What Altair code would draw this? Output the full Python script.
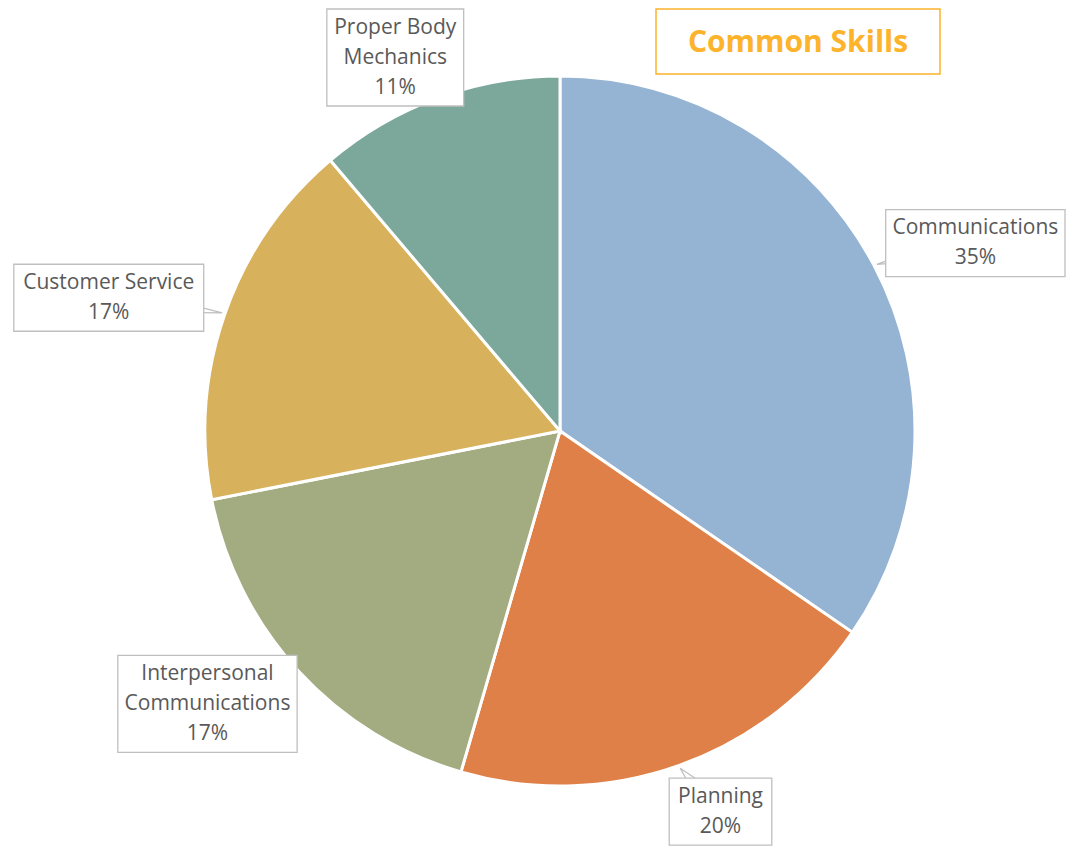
import altair as alt
import pandas as pd
import numpy as np

# ---- data ----
categories = ["Communications", "Planning", "Interpersonal Communications",
              "Customer Service", "Proper Body Mechanics"]
shares = [34.6, 19.9, 17.4, 16.9, 11.2]
label_lines = [["Communications"], ["Planning"], ["Interpersonal", "Communications"],
               ["Customer Service"], ["Proper Body", "Mechanics"]]
title_text = "Common Skills"

# ---- style ----
colors = ["#95B4D3", "#DE8047", "#A3AB80", "#D8B15D", "#7CA79B"]
W, H = 1058, 838
CX, CY, R = 552, 423, 355
RX, RY = 478, 404
FONT = "Open Sans"
FS, LH, UNIT, PAD = 21, 30, 11.8, 20
TEXT_C = "#595959"
BOX_C = "#BFBFBF"
TITLE_C = "#FDB32B"


def text_units(s):
    u = 0.0
    for ch in s:
        if ch in "mMwW%":
            u += 1.5
        elif ch in "iltfjI ":
            u += 0.5
        elif ch in "r":
            u += 0.7
        else:
            u += 1.0
    return u


df = pd.DataFrame({"category": categories, "share": shares, "idx": range(len(categories))})
total = df["share"].sum()
frac = df["share"] / total
end = frac.cumsum() * 2 * np.pi
mid = end - frac * np.pi

labels, bws, bhs, nls = [], [], [], []
for lines, f in zip(label_lines, frac):
    pct = f"{round(100 * f)}%"
    all_lines = lines + [pct]
    labels.append("\n".join(all_lines))
    bws.append(max(text_units(s) for s in all_lines) * UNIT + PAD)
    bhs.append(len(all_lines) * LH + 7)
    nls.append(len(all_lines))

bws, bhs, nls = np.array(bws), np.array(bhs), np.array(nls)
lab = pd.DataFrame({"category": categories, "label": labels})
lx = CX + RX * np.sin(mid.values)
ly = CY - RY * np.cos(mid.values)
# keep boxes inside the drawing
lx = np.clip(lx, bws / 2 + 3, W - bws / 2 - 1)
ly = np.maximum(ly, bhs / 2 + 1)
lab["lx"] = lx
lab["ly"] = ly
lab["ty"] = ly - (nls - 1) * LH / 2
lab["x1"] = lx - bws / 2
lab["x2"] = lx + bws / 2
lab["y1"] = ly - bhs / 2
lab["y2"] = ly + bhs / 2

# callout pointers: base at box centre, tip at slice edge
rows = []
for i, c in enumerate(categories):
    tx = CX + (R + 3) * np.sin(mid.iloc[i])
    ty = CY - (R + 3) * np.cos(mid.iloc[i])
    bx, by = lx[i], ly[i]
    dx, dy = tx - bx, ty - by
    n = np.hypot(dx, dy)
    px, py = -dy / n * 14, dx / n * 14
    rows += [
        {"category": c, "o": 0, "px": bx + px, "py": by + py},
        {"category": c, "o": 1, "px": tx, "py": ty},
        {"category": c, "o": 2, "px": bx - px, "py": by - py},
    ]
ptr = pd.DataFrame(rows)

pie = alt.Chart(df).mark_arc(radius=R, stroke="white", strokeWidth=3).encode(
    theta=alt.Theta("share:Q", stack=True),
    color=alt.Color("category:N", scale=alt.Scale(domain=categories, range=colors), legend=None),
    order=alt.Order("idx:Q"),
    x=alt.value(CX),
    y=alt.value(CY),
)

pointers = alt.Chart(ptr).mark_line(color=BOX_C, strokeWidth=1.3).encode(
    x=alt.X("px:Q", scale=None),
    y=alt.Y("py:Q", scale=None),
    detail="category:N",
    order="o:Q",
)

boxes = alt.Chart(lab).mark_rect(fill="white", stroke=BOX_C, strokeWidth=1.3).encode(
    x=alt.X("x1:Q", scale=None), x2="x2:Q",
    y=alt.Y("y1:Q", scale=None), y2="y2:Q",
)

texts = alt.Chart(lab).mark_text(
    font=FONT, fontSize=FS, color=TEXT_C, lineBreak="\n", lineHeight=LH,
    align="center", baseline="middle",
).encode(
    x=alt.X("lx:Q", scale=None),
    y=alt.Y("ty:Q", scale=None),
    text="label:N",
)

title_df = pd.DataFrame({"t": [title_text]})
title_box = alt.Chart(title_df).mark_rect(fill="white", stroke=TITLE_C, strokeWidth=1.5).encode(
    x=alt.value(648), x2=alt.value(932), y=alt.value(1), y2=alt.value(66),
)
title = alt.Chart(title_df).mark_text(
    font=FONT, fontSize=30, fontWeight="bold", color=TITLE_C, align="center", baseline="middle",
).encode(x=alt.value(790), y=alt.value(35), text="t:N")

chart = alt.layer(pie, pointers, boxes, texts, title_box, title).properties(
    width=W, height=H, autosize=alt.AutoSizeParams(type="none"), padding=0,
).configure_view(stroke=None)

chart.save("out.html", embed_options={"renderer": "svg", "actions": False})
